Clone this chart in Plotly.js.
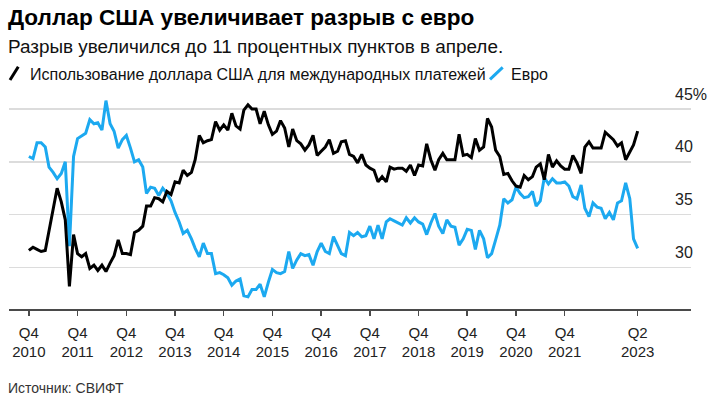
<!DOCTYPE html>
<html><head><meta charset="utf-8">
<script src="https://cdn.plot.ly/plotly-3.0.1.min.js"></script>
<style>html,body{margin:0;padding:0;background:#fff}#chart{width:709px;height:399px}</style>
</head><body><div id="chart"></div>
<script>
// Monthly data, Oct 2010 .. Apr 2023 (share of international payments, %)
const startYear = 2010, startMonth = 10;
const usdShare = [
31.6,31.9,31.7,31.5,31.6,33.4,35.4,37.5,36.2,34.5,
28.2,33.1,31.3,31.0,31.3,29.9,30.2,29.7,30.2,29.6,
30.4,31.1,32.6,31.3,31.3,31.2,33.3,33.5,33.9,35.8,
35.8,36.6,36.5,36.2,37.2,36.9,38.1,38.0,39.2,38.7,
39.0,40.2,42.5,41.8,42.0,42.1,43.8,43.0,43.5,43.0,
44.6,43.4,43.1,44.9,45.4,45.0,45.0,43.6,44.8,43.5,
42.6,42.9,43.9,43.2,41.4,43.1,42.0,41.7,41.1,41.6,
42.5,40.6,41.0,41.4,42.1,40.8,41.0,41.9,42.0,40.7,
40.5,39.9,40.7,39.7,39.4,39.2,38.1,38.6,38.1,39.5,
39.3,39.4,39.4,39.1,39.7,38.7,39.7,39.6,41.7,40.2,
39.2,40.2,40.8,40.2,40.2,40.2,42.6,40.6,40.7,40.4,
42.2,41.1,41.4,44.1,43.3,41.1,40.5,38.8,38.9,38.2,
37.7,37.6,38.7,38.3,38.6,39.5,39.8,38.3,40.7,39.5,
40.1,39.6,39.3,39.3,40.6,39.9,38.9,41.4,41.9,41.3,
41.3,41.3,42.8,42.4,42.1,41.5,41.8,40.2,41.0,41.6,
42.9
];
const eurShare = [
40.5,40.3,41.8,41.8,41.4,39.5,39.0,38.4,38.9,40.0,
32.0,40.5,42.2,42.5,42.7,44.0,43.6,43.7,43.0,45.8,
43.6,42.9,41.3,42.1,42.5,41.3,40.0,40.2,39.5,37.0,
37.6,37.5,36.8,37.5,37.0,36.3,35.2,34.3,33.2,33.5,
32.7,31.8,31.0,32.3,31.3,31.3,29.4,29.5,29.3,29.0,
28.3,28.7,28.9,27.3,27.2,27.9,27.9,28.4,27.2,28.6,
29.8,29.5,29.4,29.6,31.5,29.9,30.7,31.3,31.1,31.2,
30.2,31.5,32.3,31.5,31.3,32.9,32.0,31.3,31.1,33.3,
33.0,33.3,32.9,33.0,33.9,32.7,34.0,32.7,34.3,34.6,
34.4,34.2,34.0,34.7,34.2,34.7,34.3,34.1,33.1,34.2,
35.1,33.9,33.2,34.5,33.9,33.8,32.1,32.7,33.6,33.5,
31.7,33.5,32.7,30.9,31.3,32.6,34.0,36.5,36.1,36.4,
37.6,37.0,36.6,36.7,37.2,35.8,36.3,38.5,37.9,38.4,
38.0,38.0,38.1,37.7,36.7,36.5,37.8,35.6,34.8,36.1,
35.7,35.6,34.6,35.2,34.5,36.1,36.3,38.0,36.5,32.7,
31.8
];
const seriesNames = ['Использование доллара США для международных платежей', 'Евро'];
const tickDates = ['2010-10-01','2011-10-01','2012-10-01','2013-10-01','2014-10-01','2015-10-01','2016-10-01','2017-10-01','2018-10-01','2019-10-01','2020-10-01','2021-10-01','2023-04-01'];
const tickLabels = ['Q4<br>2010','Q4<br>2011','Q4<br>2012','Q4<br>2013','Q4<br>2014','Q4<br>2015','Q4<br>2016','Q4<br>2017','Q4<br>2018','Q4<br>2019','Q4<br>2020','Q4<br>2021','Q2<br>2023'];
const yTicks = [30, 35, 40, 45];
const yTickLabels = ['30', '35', '40', '45%'];

const months = usdShare.map((_, i) => {
  const m = startMonth - 1 + i;
  const y = startYear + Math.floor(m / 12);
  const mm = (m % 12) + 1;
  return y + '-' + String(mm).padStart(2, '0') + '-01';
});

const FONT = 'Liberation Sans, Arial, sans-serif';
const BLUE = '#1ca9f0';

// plot-area geometry helpers for annotation placement
const L = 9, R = 18, T = 95, B = 90, W = 709, H = 399;
const pw = W - L - R, ph = H - T - B;
const px = x => (x - L) / pw;
const py = y => (H - B - y) / ph;

const traces = [
  {x: months, y: eurShare, name: seriesNames[1], type: 'scatter', mode: 'lines',
   line: {color: BLUE, width: 3}, hoverinfo: 'skip'},
  {x: months, y: usdShare, name: seriesNames[0], type: 'scatter', mode: 'lines',
   line: {color: '#000000', width: 3}, hoverinfo: 'skip'}
];

const layout = {
  width: W, height: H,
  margin: {l: L, r: R, t: T, b: B, pad: 0},
  paper_bgcolor: '#ffffff', plot_bgcolor: '#ffffff',
  showlegend: false,
  title: {
    text: 'Доллар США увеличивает разрыв с евро',
    font: {family: FONT, size: 22.6, color: '#000', weight: 'bold'},
    x: 8 / W, xanchor: 'left', xref: 'container',
    y: 1 - 17.5 / H, yanchor: 'middle', yref: 'container'
  },
  xaxis: {
    type: 'date', range: ['2010-05-05', '2024-05-05'],
    tickmode: 'array', tickvals: tickDates, ticktext: tickLabels,
    showgrid: false, zeroline: false,
    showline: true, linecolor: '#4a4a4a', linewidth: 1.5,
    ticks: 'outside', ticklen: 5, tickwidth: 1.5, tickcolor: '#4a4a4a',
    ticklabelstandoff: 4,
    tickfont: {family: FONT, size: 15, color: '#222'}
  },
  yaxis: {
    range: [26.05, 46.33], side: 'right',
    tickmode: 'array', tickvals: yTicks, ticktext: yTickLabels,
    showgrid: true, gridcolor: '#dcdcdc', gridwidth: 1.5,
    zeroline: false, showline: false, ticks: '',
    ticklabelposition: 'outside', ticklabelstandoff: -17, ticklabelshift: -15,
    tickfont: {family: FONT, size: 16, color: '#222'}
  },
  shapes: [
    {type: 'line', xref: 'paper', yref: 'paper', x0: px(10), y0: py(80), x1: px(18.3), y1: py(66.7),
     line: {color: '#000', width: 3}},
    {type: 'line', xref: 'paper', yref: 'paper', x0: px(490), y0: py(79.3), x1: px(502.7), y1: py(67.3),
     line: {color: BLUE, width: 3}}
  ],
  annotations: [
    {text: 'Разрыв увеличился до 11 процентных пунктов в апреле.', xref: 'paper', yref: 'paper',
     x: px(8), y: py(46.7), xanchor: 'left', yanchor: 'middle', showarrow: false, xshift: -2,
     font: {family: FONT, size: 18.9, color: '#111'}},
    {text: seriesNames[0], xref: 'paper', yref: 'paper',
     x: px(30), y: py(74.8), xanchor: 'left', yanchor: 'middle', showarrow: false, xshift: -2,
     font: {family: FONT, size: 16, color: '#111'}},
    {text: seriesNames[1], xref: 'paper', yref: 'paper',
     x: px(510.7), y: py(74.8), xanchor: 'left', yanchor: 'middle', showarrow: false, xshift: -2,
     font: {family: FONT, size: 16, color: '#111'}},
    {text: 'Источник: СВИФТ', xref: 'paper', yref: 'paper',
     x: px(8), y: py(388), xanchor: 'left', yanchor: 'middle', showarrow: false, xshift: -2,
     font: {family: FONT, size: 14, color: '#333'}}
  ]
};

Plotly.newPlot('chart', traces, layout, {staticPlot: true, displayModeBar: false});
</script>
</body></html>
